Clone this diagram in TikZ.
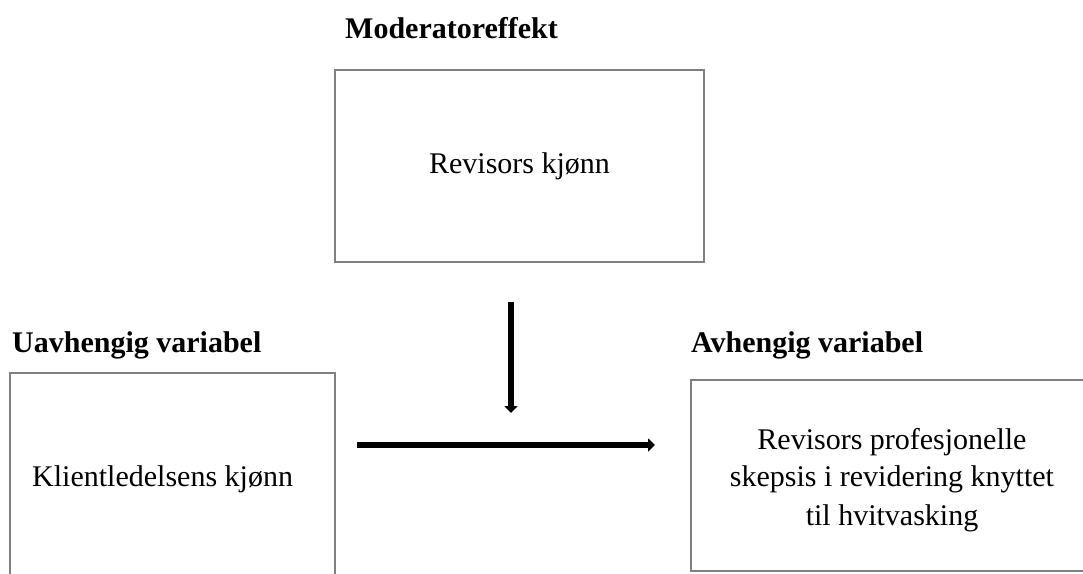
\documentclass[tikz,border=0pt]{standalone}
\usepackage{fontspec}
\setmainfont{Liberation Serif}
\usetikzlibrary{arrows.meta}
\begin{document}
\begin{tikzpicture}[x=1pt,y=-1pt,
  box/.style={draw=black!50,line width=1.4pt,inner sep=0pt,outer sep=0pt},
  lbl/.style={font=\fontsize{30}{37.5}\selectfont,inner sep=0pt},
  hdr/.style={font=\fontsize{30}{37.5}\selectfont\bfseries,inner sep=0pt,anchor=base west},
  conn/.style={line width=6.5pt,-{Triangle[length=7pt,width=13pt]}}]
\useasboundingbox (0,0) rectangle (1083,573);
% boxes
\node[box,minimum width=369pt,minimum height=192pt] (mod) at (519.5,166) {};
\node[box,minimum width=325pt,minimum height=240pt] (ind) at (172.5,493) {};
\node[box,minimum width=409pt,minimum height=191pt] (dep) at (895.5,475.5) {};
% headers
\node[hdr] (hmod) at (345,38) {Moderatoreffekt};
\node[hdr] (hind) at (12,352) {Uavhengig variabel};
\node[hdr] (hdep) at (691,352) {Avhengig variabel};
% texts
\node[lbl,anchor=base] (tmod) at (519.5,173) {Revisors kjønn};
\node[lbl,anchor=base west] (tind) at (32,486) {Klientledelsens kjønn};
\node[lbl,anchor=base,align=center] (tdep) at (892,525) {Revisors profesjonelle\\skepsis i revidering knyttet\\[1pt]til hvitvasking};
% connectors
\coordinate (vs) at (511,302);
\coordinate (ve) at (511,413);
\coordinate (hs) at (357,445);
\coordinate (he) at (655,445);
\draw[conn] (vs) -- (ve);
\draw[conn] (hs) -- (he);
\end{tikzpicture}
\end{document}
